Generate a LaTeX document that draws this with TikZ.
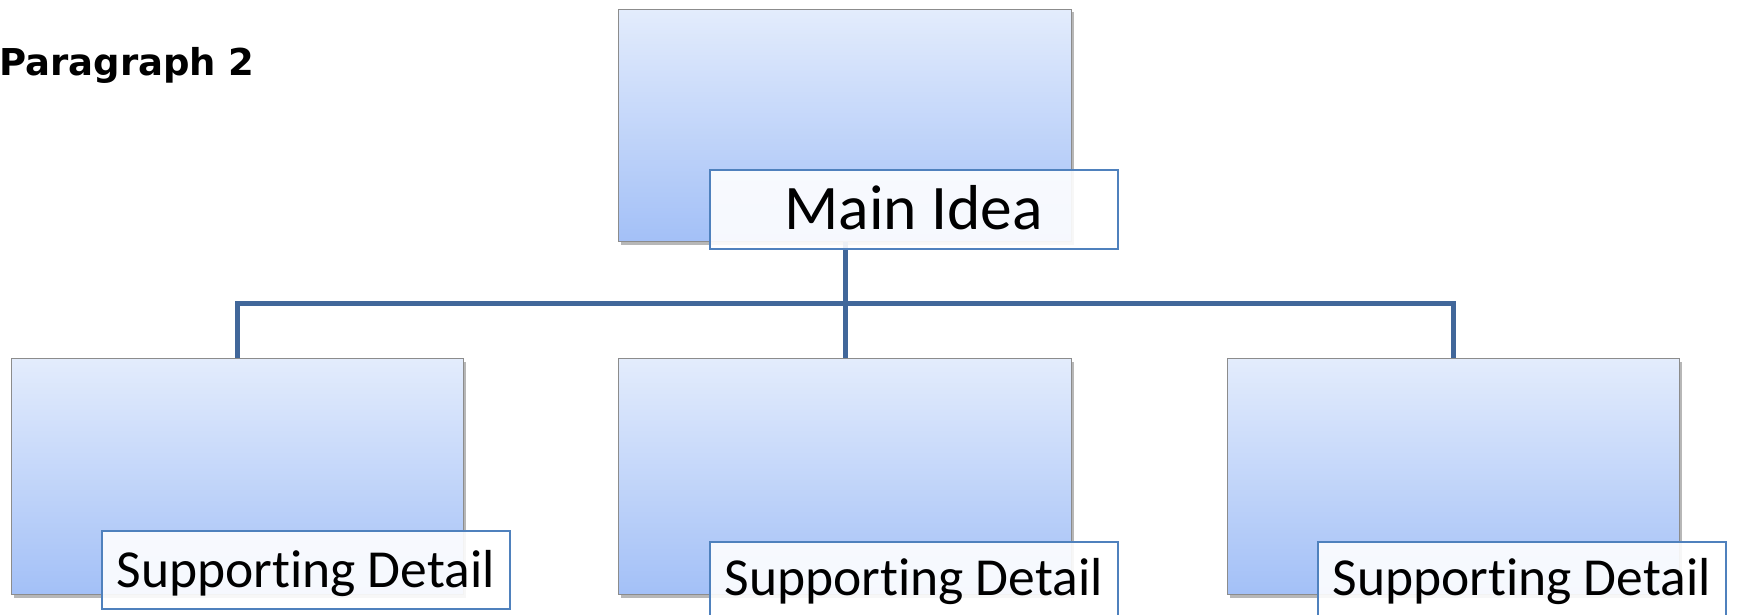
\documentclass[tikz,border=0pt]{standalone}
\usepackage{fontspec}
\setmainfont[Ligatures=NoCommon]{Carlito}
\newfontfamily\parafont{DejaVu Sans}
\usetikzlibrary{shadows}
\definecolor{boxtop}{HTML}{E3ECFC}
\definecolor{boxbot}{HTML}{A3C0F7}
\definecolor{boxline}{HTML}{8C8C8C}
\definecolor{lblline}{HTML}{4F81BD}
\definecolor{conn}{HTML}{41679A}
\tikzset{
  gbox/.style={draw=boxline, line width=1pt, top color=boxtop, bottom color=boxbot,
    inner sep=0pt, anchor=north west,
    drop shadow={shadow xshift=2pt, shadow yshift=-3pt, opacity=0.4, fill=black!70}},
  lbl/.style={draw=lblline, line width=1.5pt, fill=white, fill opacity=0.9, text opacity=1,
    text=black, inner sep=0pt, anchor=north west, minimum width=408pt},
  mainfont/.style={font=\fontsize{63.5}{63.5}\selectfont},
  subfont/.style={font=\fontsize{53.5}{53.5}\selectfont},
  connline/.style={draw=conn, line width=5pt}
}
\begin{document}
\begin{tikzpicture}[x=1pt,y=-1pt]
\useasboundingbox (0,0) rectangle (1737,615);
% title
\node[anchor=base west, inner sep=0pt, font=\parafont\bfseries\fontsize{37}{37}\selectfont] (title) at (-1,76) {Paragraph 2};
% boxes
\node[gbox, minimum width=453pt, minimum height=232pt] (topbox) at (618,9) {};
\node[gbox, minimum width=452pt, minimum height=236pt] (leftbox) at (11,358) {};
\node[gbox, minimum width=453pt, minimum height=236pt] (midbox) at (618,358) {};
\node[gbox, minimum width=452pt, minimum height=236pt] (rightbox) at (1227,358) {};
% connectors
\coordinate (j) at (845,303);
\draw[connline] (topbox.south) -- (midbox.north);
\draw[connline] (leftbox.north) |- (j) -| (rightbox.north);
% labels
\node[lbl, mainfont, text height=60pt, text depth=19pt] (mainlbl) at (709,169) {Main Idea};
\node[lbl, subfont, text height=57pt, text depth=21pt] (leftlbl) at (101,530) {Supporting Detail};
\node[lbl, subfont, text height=54pt, text depth=30pt] (midlbl) at (709,541) {Supporting Detail};
\node[lbl, subfont, text height=54pt, text depth=30pt] (rightlbl) at (1317,541) {Supporting Detail};
\end{tikzpicture}
\end{document}
